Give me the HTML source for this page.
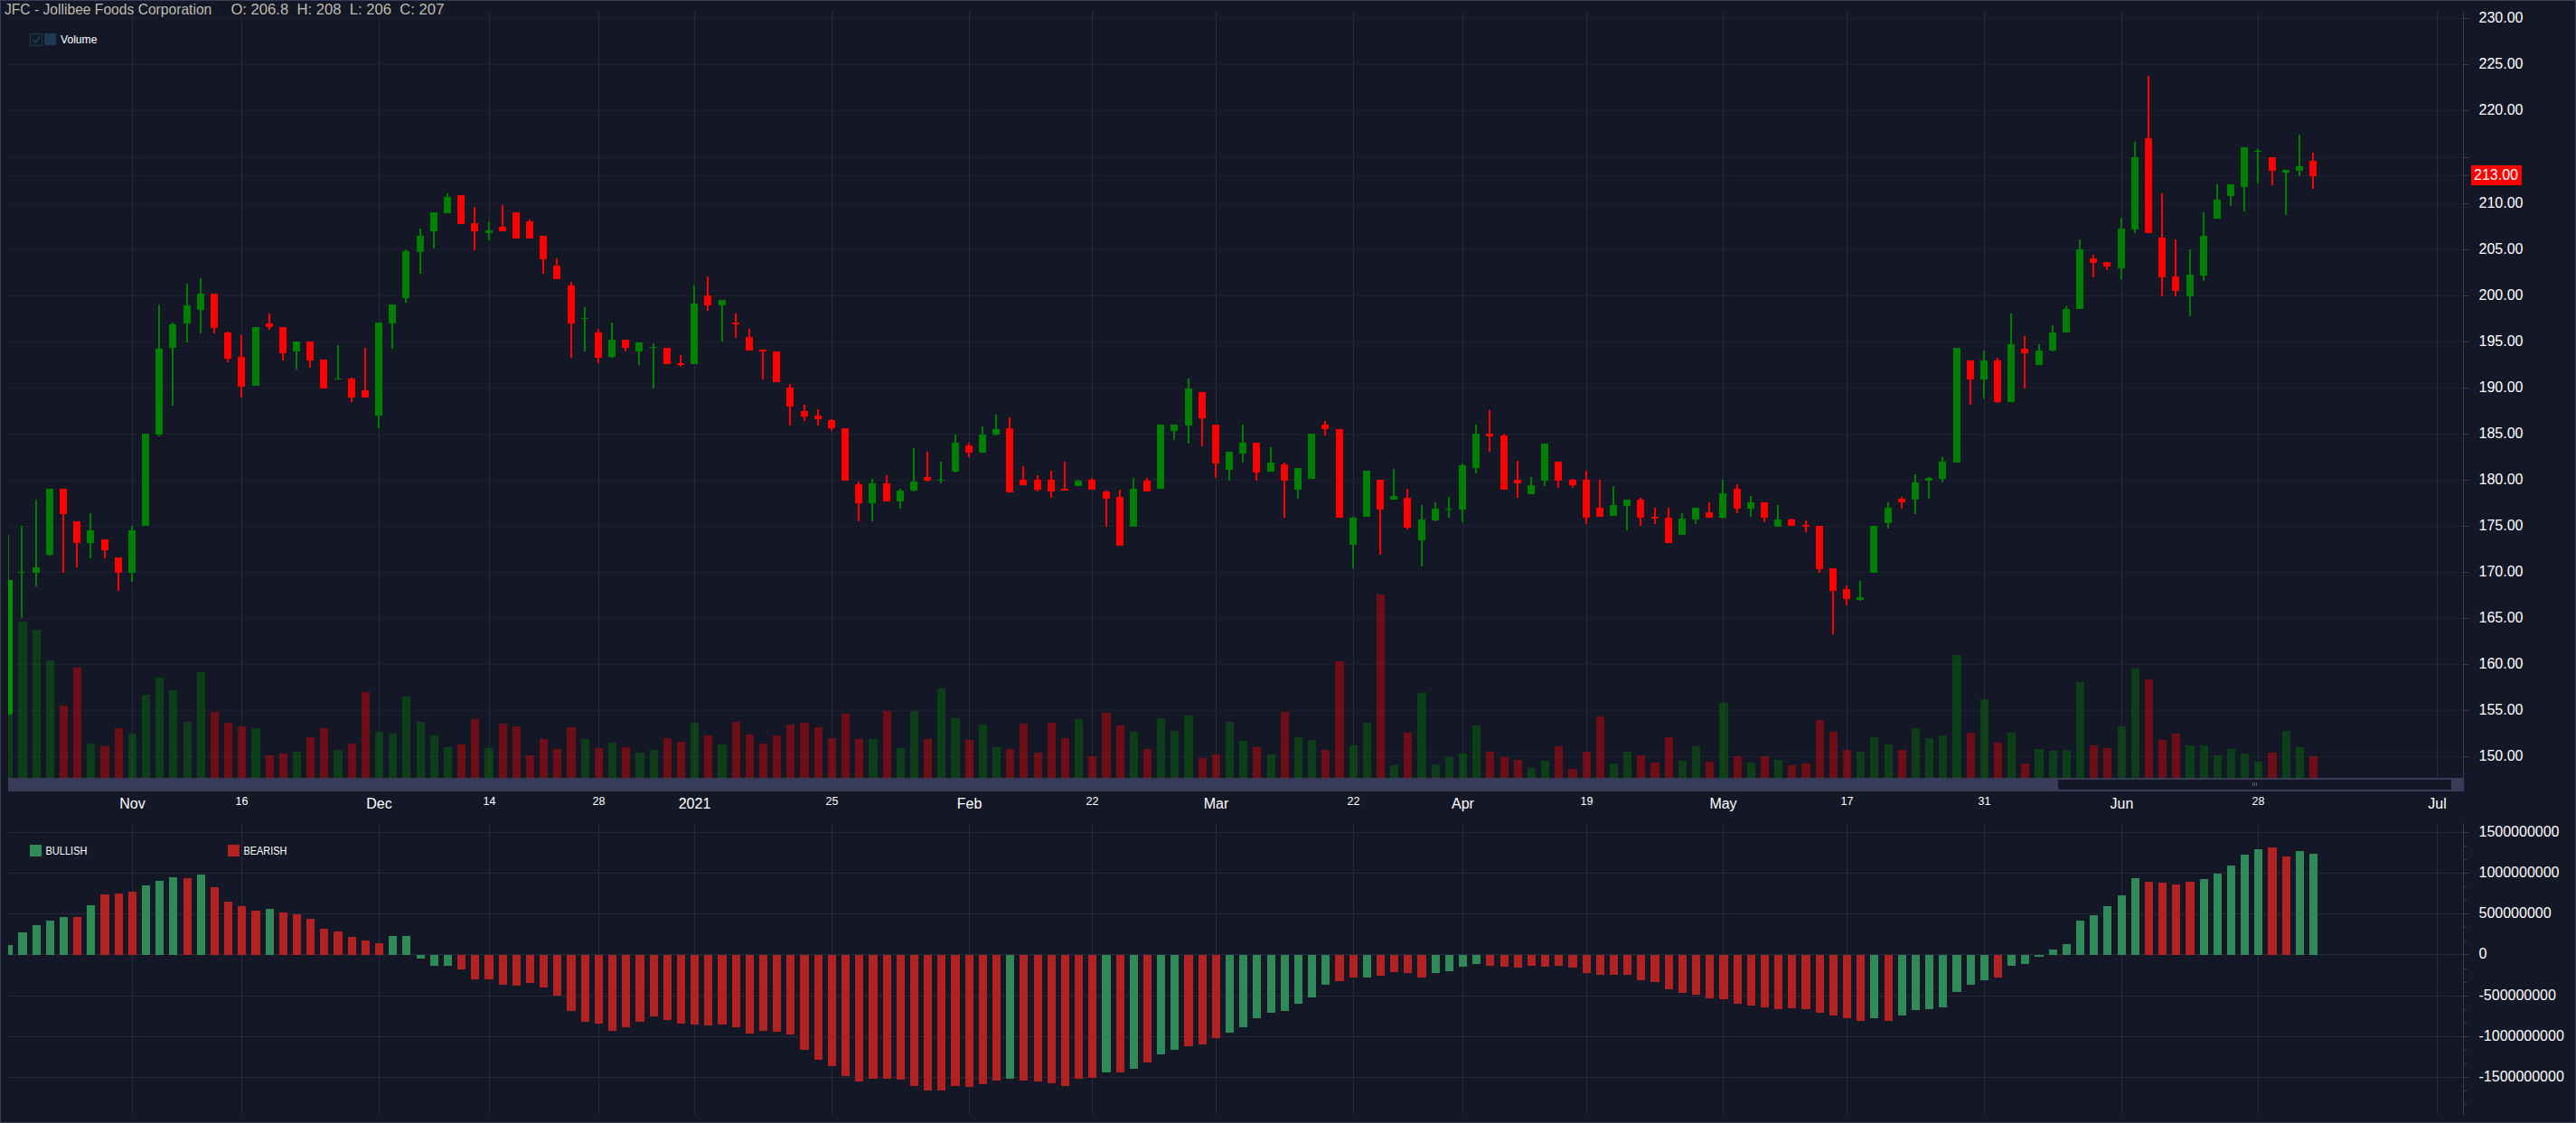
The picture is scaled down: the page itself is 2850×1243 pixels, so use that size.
<!DOCTYPE html>
<html><head><meta charset="utf-8"><title>JFC - Jollibee Foods Corporation</title>
<style>html,body{margin:0;padding:0;background:#141726;overflow:hidden}svg text{white-space:pre}</style></head>
<body>
<svg width="2850" height="1243" viewBox="0 0 2850 1243" style="display:block" font-family='"Liberation Sans", sans-serif'>
<rect width="2850" height="1243" fill="#141726"/>
<defs><clipPath id="pc"><rect x="9" y="13" width="2717" height="849"/></clipPath></defs>
<g shape-rendering="crispEdges" fill="#262939">
<rect x="146" y="13" width="1" height="848"/>
<rect x="146" y="911" width="1" height="323"/>
<rect x="267" y="13" width="1" height="848"/>
<rect x="267" y="911" width="1" height="323"/>
<rect x="419" y="13" width="1" height="848"/>
<rect x="419" y="911" width="1" height="323"/>
<rect x="541" y="13" width="1" height="848"/>
<rect x="541" y="911" width="1" height="323"/>
<rect x="662" y="13" width="1" height="848"/>
<rect x="662" y="911" width="1" height="323"/>
<rect x="768" y="13" width="1" height="848"/>
<rect x="768" y="911" width="1" height="323"/>
<rect x="920" y="13" width="1" height="848"/>
<rect x="920" y="911" width="1" height="323"/>
<rect x="1072" y="13" width="1" height="848"/>
<rect x="1072" y="911" width="1" height="323"/>
<rect x="1208" y="13" width="1" height="848"/>
<rect x="1208" y="911" width="1" height="323"/>
<rect x="1345" y="13" width="1" height="848"/>
<rect x="1345" y="911" width="1" height="323"/>
<rect x="1497" y="13" width="1" height="848"/>
<rect x="1497" y="911" width="1" height="323"/>
<rect x="1618" y="13" width="1" height="848"/>
<rect x="1618" y="911" width="1" height="323"/>
<rect x="1755" y="13" width="1" height="848"/>
<rect x="1755" y="911" width="1" height="323"/>
<rect x="1906" y="13" width="1" height="848"/>
<rect x="1906" y="911" width="1" height="323"/>
<rect x="2043" y="13" width="1" height="848"/>
<rect x="2043" y="911" width="1" height="323"/>
<rect x="2195" y="13" width="1" height="848"/>
<rect x="2195" y="911" width="1" height="323"/>
<rect x="2347" y="13" width="1" height="848"/>
<rect x="2347" y="911" width="1" height="323"/>
<rect x="2498" y="13" width="1" height="848"/>
<rect x="2498" y="911" width="1" height="323"/>
<rect x="2696" y="13" width="1" height="848"/>
<rect x="2696" y="911" width="1" height="323"/>
</g>
<g shape-rendering="crispEdges" stroke="#25283b" stroke-width="1" stroke-dasharray="1 1">
<line x1="9" x2="2725" y1="20.5" y2="20.5"/>
<line x1="9" x2="2725" y1="71.5" y2="71.5"/>
<line x1="9" x2="2725" y1="122.5" y2="122.5"/>
<line x1="9" x2="2725" y1="174.5" y2="174.5"/>
<line x1="9" x2="2725" y1="225.5" y2="225.5"/>
<line x1="9" x2="2725" y1="276.5" y2="276.5"/>
<line x1="9" x2="2725" y1="327.5" y2="327.5"/>
<line x1="9" x2="2725" y1="378.5" y2="378.5"/>
<line x1="9" x2="2725" y1="429.5" y2="429.5"/>
<line x1="9" x2="2725" y1="480.5" y2="480.5"/>
<line x1="9" x2="2725" y1="531.5" y2="531.5"/>
<line x1="9" x2="2725" y1="582.5" y2="582.5"/>
<line x1="9" x2="2725" y1="633.5" y2="633.5"/>
<line x1="9" x2="2725" y1="684.5" y2="684.5"/>
<line x1="9" x2="2725" y1="735.5" y2="735.5"/>
<line x1="9" x2="2725" y1="786.5" y2="786.5"/>
<line x1="9" x2="2725" y1="837.5" y2="837.5"/>
<line x1="9" x2="2725" y1="194.5" y2="194.5"/>
</g>
<g shape-rendering="crispEdges" fill="#262939">
<rect x="9" y="921" width="2716" height="1"/>
<rect x="9" y="966" width="2716" height="1"/>
<rect x="9" y="1011" width="2716" height="1"/>
<rect x="9" y="1056" width="2716" height="1"/>
<rect x="9" y="1102" width="2716" height="1"/>
<rect x="9" y="1147" width="2716" height="1"/>
<rect x="9" y="1192" width="2716" height="1"/>
</g>
<g shape-rendering="crispEdges" clip-path="url(#pc)">
<rect x="8" y="592" width="2" height="199" fill="#008000"/>
<rect x="5" y="642" width="8" height="149" fill="#008000"/>
<rect x="23" y="582" width="2" height="102" fill="#008000"/>
<rect x="20" y="633" width="8" height="1" fill="#008000"/>
<rect x="39" y="553" width="2" height="96" fill="#008000"/>
<rect x="36" y="628" width="8" height="6" fill="#008000"/>
<rect x="54" y="541" width="2" height="74" fill="#008000"/>
<rect x="51" y="541" width="8" height="73" fill="#008000"/>
<rect x="69" y="541" width="2" height="93" fill="#ff0000"/>
<rect x="66" y="541" width="8" height="28" fill="#ff0000"/>
<rect x="84" y="577" width="2" height="51" fill="#ff0000"/>
<rect x="81" y="577" width="8" height="24" fill="#ff0000"/>
<rect x="99" y="568" width="2" height="50" fill="#008000"/>
<rect x="96" y="587" width="8" height="14" fill="#008000"/>
<rect x="115" y="597" width="2" height="21" fill="#ff0000"/>
<rect x="112" y="597" width="8" height="12" fill="#ff0000"/>
<rect x="130" y="617" width="2" height="37" fill="#ff0000"/>
<rect x="127" y="617" width="8" height="17" fill="#ff0000"/>
<rect x="145" y="582" width="2" height="62" fill="#008000"/>
<rect x="142" y="587" width="8" height="47" fill="#008000"/>
<rect x="160" y="480" width="2" height="102" fill="#008000"/>
<rect x="157" y="480" width="8" height="102" fill="#008000"/>
<rect x="175" y="337" width="2" height="146" fill="#008000"/>
<rect x="172" y="386" width="8" height="95" fill="#008000"/>
<rect x="190" y="357" width="2" height="92" fill="#008000"/>
<rect x="187" y="359" width="8" height="26" fill="#008000"/>
<rect x="206" y="314" width="2" height="65" fill="#008000"/>
<rect x="203" y="338" width="8" height="20" fill="#008000"/>
<rect x="221" y="308" width="2" height="61" fill="#008000"/>
<rect x="218" y="325" width="8" height="18" fill="#008000"/>
<rect x="236" y="325" width="2" height="44" fill="#ff0000"/>
<rect x="233" y="325" width="8" height="38" fill="#ff0000"/>
<rect x="251" y="367" width="2" height="34" fill="#ff0000"/>
<rect x="248" y="368" width="8" height="29" fill="#ff0000"/>
<rect x="266" y="371" width="2" height="69" fill="#ff0000"/>
<rect x="263" y="395" width="8" height="33" fill="#ff0000"/>
<rect x="282" y="362" width="2" height="65" fill="#008000"/>
<rect x="279" y="362" width="8" height="65" fill="#008000"/>
<rect x="297" y="347" width="2" height="18" fill="#ff0000"/>
<rect x="294" y="358" width="8" height="4" fill="#ff0000"/>
<rect x="312" y="362" width="2" height="37" fill="#ff0000"/>
<rect x="309" y="362" width="8" height="29" fill="#ff0000"/>
<rect x="327" y="378" width="2" height="31" fill="#008000"/>
<rect x="324" y="378" width="8" height="11" fill="#008000"/>
<rect x="342" y="378" width="2" height="29" fill="#ff0000"/>
<rect x="339" y="378" width="8" height="21" fill="#ff0000"/>
<rect x="357" y="398" width="2" height="32" fill="#ff0000"/>
<rect x="354" y="398" width="8" height="32" fill="#ff0000"/>
<rect x="373" y="382" width="2" height="38" fill="#008000"/>
<rect x="370" y="419" width="8" height="1" fill="#008000"/>
<rect x="388" y="418" width="2" height="27" fill="#ff0000"/>
<rect x="385" y="419" width="8" height="21" fill="#ff0000"/>
<rect x="403" y="385" width="2" height="55" fill="#ff0000"/>
<rect x="400" y="432" width="8" height="8" fill="#ff0000"/>
<rect x="418" y="357" width="2" height="117" fill="#008000"/>
<rect x="415" y="357" width="8" height="103" fill="#008000"/>
<rect x="433" y="337" width="2" height="49" fill="#008000"/>
<rect x="430" y="337" width="8" height="21" fill="#008000"/>
<rect x="448" y="276" width="2" height="59" fill="#008000"/>
<rect x="445" y="278" width="8" height="52" fill="#008000"/>
<rect x="464" y="253" width="2" height="50" fill="#008000"/>
<rect x="461" y="261" width="8" height="18" fill="#008000"/>
<rect x="479" y="235" width="2" height="40" fill="#008000"/>
<rect x="476" y="235" width="8" height="21" fill="#008000"/>
<rect x="494" y="214" width="2" height="22" fill="#008000"/>
<rect x="491" y="218" width="8" height="18" fill="#008000"/>
<rect x="509" y="216" width="2" height="32" fill="#ff0000"/>
<rect x="506" y="216" width="8" height="32" fill="#ff0000"/>
<rect x="524" y="229" width="2" height="48" fill="#ff0000"/>
<rect x="521" y="247" width="8" height="9" fill="#ff0000"/>
<rect x="540" y="245" width="2" height="21" fill="#008000"/>
<rect x="537" y="255" width="8" height="3" fill="#008000"/>
<rect x="555" y="227" width="2" height="29" fill="#ff0000"/>
<rect x="552" y="251" width="8" height="5" fill="#ff0000"/>
<rect x="570" y="235" width="2" height="29" fill="#ff0000"/>
<rect x="567" y="235" width="8" height="29" fill="#ff0000"/>
<rect x="585" y="243" width="2" height="21" fill="#ff0000"/>
<rect x="582" y="245" width="8" height="19" fill="#ff0000"/>
<rect x="600" y="261" width="2" height="42" fill="#ff0000"/>
<rect x="597" y="261" width="8" height="26" fill="#ff0000"/>
<rect x="615" y="286" width="2" height="23" fill="#ff0000"/>
<rect x="612" y="294" width="8" height="15" fill="#ff0000"/>
<rect x="631" y="312" width="2" height="84" fill="#ff0000"/>
<rect x="628" y="316" width="8" height="42" fill="#ff0000"/>
<rect x="646" y="340" width="2" height="49" fill="#008000"/>
<rect x="643" y="352" width="8" height="1" fill="#008000"/>
<rect x="661" y="364" width="2" height="38" fill="#ff0000"/>
<rect x="658" y="368" width="8" height="28" fill="#ff0000"/>
<rect x="676" y="357" width="2" height="39" fill="#008000"/>
<rect x="673" y="376" width="8" height="19" fill="#008000"/>
<rect x="691" y="376" width="2" height="13" fill="#ff0000"/>
<rect x="688" y="376" width="8" height="9" fill="#ff0000"/>
<rect x="706" y="379" width="2" height="25" fill="#008000"/>
<rect x="703" y="379" width="8" height="10" fill="#008000"/>
<rect x="722" y="380" width="2" height="50" fill="#008000"/>
<rect x="719" y="384" width="8" height="1" fill="#008000"/>
<rect x="737" y="385" width="2" height="18" fill="#ff0000"/>
<rect x="734" y="385" width="8" height="18" fill="#ff0000"/>
<rect x="752" y="393" width="2" height="13" fill="#ff0000"/>
<rect x="749" y="402" width="8" height="2" fill="#ff0000"/>
<rect x="767" y="316" width="2" height="87" fill="#008000"/>
<rect x="764" y="336" width="8" height="67" fill="#008000"/>
<rect x="782" y="306" width="2" height="38" fill="#ff0000"/>
<rect x="779" y="327" width="8" height="11" fill="#ff0000"/>
<rect x="798" y="332" width="2" height="46" fill="#008000"/>
<rect x="795" y="332" width="8" height="6" fill="#008000"/>
<rect x="813" y="347" width="2" height="27" fill="#ff0000"/>
<rect x="810" y="357" width="8" height="2" fill="#ff0000"/>
<rect x="828" y="364" width="2" height="24" fill="#ff0000"/>
<rect x="825" y="373" width="8" height="15" fill="#ff0000"/>
<rect x="843" y="387" width="2" height="33" fill="#ff0000"/>
<rect x="840" y="387" width="8" height="2" fill="#ff0000"/>
<rect x="858" y="389" width="2" height="34" fill="#ff0000"/>
<rect x="855" y="389" width="8" height="34" fill="#ff0000"/>
<rect x="873" y="425" width="2" height="46" fill="#ff0000"/>
<rect x="870" y="429" width="8" height="21" fill="#ff0000"/>
<rect x="889" y="448" width="2" height="18" fill="#ff0000"/>
<rect x="886" y="455" width="8" height="6" fill="#ff0000"/>
<rect x="904" y="453" width="2" height="18" fill="#ff0000"/>
<rect x="901" y="460" width="8" height="4" fill="#ff0000"/>
<rect x="919" y="464" width="2" height="13" fill="#ff0000"/>
<rect x="916" y="465" width="8" height="9" fill="#ff0000"/>
<rect x="934" y="474" width="2" height="58" fill="#ff0000"/>
<rect x="931" y="474" width="8" height="58" fill="#ff0000"/>
<rect x="949" y="533" width="2" height="44" fill="#ff0000"/>
<rect x="946" y="536" width="8" height="21" fill="#ff0000"/>
<rect x="964" y="530" width="2" height="47" fill="#008000"/>
<rect x="961" y="535" width="8" height="22" fill="#008000"/>
<rect x="980" y="526" width="2" height="29" fill="#ff0000"/>
<rect x="977" y="535" width="8" height="20" fill="#ff0000"/>
<rect x="995" y="541" width="2" height="22" fill="#008000"/>
<rect x="992" y="543" width="8" height="12" fill="#008000"/>
<rect x="1010" y="496" width="2" height="48" fill="#008000"/>
<rect x="1007" y="533" width="8" height="10" fill="#008000"/>
<rect x="1025" y="500" width="2" height="33" fill="#ff0000"/>
<rect x="1022" y="528" width="8" height="4" fill="#ff0000"/>
<rect x="1040" y="511" width="2" height="24" fill="#008000"/>
<rect x="1037" y="531" width="8" height="1" fill="#008000"/>
<rect x="1056" y="481" width="2" height="42" fill="#008000"/>
<rect x="1053" y="490" width="8" height="32" fill="#008000"/>
<rect x="1071" y="490" width="2" height="16" fill="#ff0000"/>
<rect x="1068" y="493" width="8" height="8" fill="#ff0000"/>
<rect x="1086" y="472" width="2" height="29" fill="#008000"/>
<rect x="1083" y="481" width="8" height="20" fill="#008000"/>
<rect x="1101" y="459" width="2" height="23" fill="#008000"/>
<rect x="1098" y="475" width="8" height="6" fill="#008000"/>
<rect x="1116" y="462" width="2" height="83" fill="#ff0000"/>
<rect x="1113" y="474" width="8" height="71" fill="#ff0000"/>
<rect x="1131" y="516" width="2" height="21" fill="#ff0000"/>
<rect x="1128" y="531" width="8" height="6" fill="#ff0000"/>
<rect x="1147" y="526" width="2" height="18" fill="#ff0000"/>
<rect x="1144" y="531" width="8" height="11" fill="#ff0000"/>
<rect x="1162" y="521" width="2" height="30" fill="#ff0000"/>
<rect x="1159" y="531" width="8" height="13" fill="#ff0000"/>
<rect x="1177" y="511" width="2" height="32" fill="#ff0000"/>
<rect x="1174" y="541" width="8" height="2" fill="#ff0000"/>
<rect x="1192" y="531" width="2" height="7" fill="#008000"/>
<rect x="1189" y="532" width="8" height="6" fill="#008000"/>
<rect x="1207" y="529" width="2" height="13" fill="#ff0000"/>
<rect x="1204" y="531" width="8" height="11" fill="#ff0000"/>
<rect x="1223" y="543" width="2" height="40" fill="#ff0000"/>
<rect x="1220" y="544" width="8" height="8" fill="#ff0000"/>
<rect x="1238" y="542" width="2" height="62" fill="#ff0000"/>
<rect x="1235" y="550" width="8" height="54" fill="#ff0000"/>
<rect x="1253" y="529" width="2" height="54" fill="#008000"/>
<rect x="1250" y="541" width="8" height="42" fill="#008000"/>
<rect x="1268" y="529" width="2" height="15" fill="#ff0000"/>
<rect x="1265" y="532" width="8" height="12" fill="#ff0000"/>
<rect x="1283" y="470" width="2" height="71" fill="#008000"/>
<rect x="1280" y="470" width="8" height="71" fill="#008000"/>
<rect x="1298" y="470" width="2" height="17" fill="#008000"/>
<rect x="1295" y="470" width="8" height="7" fill="#008000"/>
<rect x="1314" y="419" width="2" height="72" fill="#008000"/>
<rect x="1311" y="430" width="8" height="41" fill="#008000"/>
<rect x="1329" y="434" width="2" height="60" fill="#ff0000"/>
<rect x="1326" y="434" width="8" height="29" fill="#ff0000"/>
<rect x="1344" y="470" width="2" height="59" fill="#ff0000"/>
<rect x="1341" y="470" width="8" height="43" fill="#ff0000"/>
<rect x="1359" y="500" width="2" height="32" fill="#008000"/>
<rect x="1356" y="500" width="8" height="20" fill="#008000"/>
<rect x="1374" y="470" width="2" height="42" fill="#008000"/>
<rect x="1371" y="490" width="8" height="12" fill="#008000"/>
<rect x="1389" y="490" width="2" height="42" fill="#ff0000"/>
<rect x="1386" y="490" width="8" height="33" fill="#ff0000"/>
<rect x="1405" y="495" width="2" height="27" fill="#008000"/>
<rect x="1402" y="512" width="8" height="10" fill="#008000"/>
<rect x="1420" y="512" width="2" height="61" fill="#ff0000"/>
<rect x="1417" y="514" width="8" height="18" fill="#ff0000"/>
<rect x="1435" y="518" width="2" height="34" fill="#008000"/>
<rect x="1432" y="518" width="8" height="24" fill="#008000"/>
<rect x="1450" y="480" width="2" height="50" fill="#008000"/>
<rect x="1447" y="480" width="8" height="50" fill="#008000"/>
<rect x="1465" y="466" width="2" height="16" fill="#ff0000"/>
<rect x="1462" y="470" width="8" height="5" fill="#ff0000"/>
<rect x="1481" y="475" width="2" height="98" fill="#ff0000"/>
<rect x="1478" y="475" width="8" height="98" fill="#ff0000"/>
<rect x="1496" y="572" width="2" height="57" fill="#008000"/>
<rect x="1493" y="573" width="8" height="30" fill="#008000"/>
<rect x="1511" y="521" width="2" height="51" fill="#008000"/>
<rect x="1508" y="521" width="8" height="51" fill="#008000"/>
<rect x="1526" y="531" width="2" height="83" fill="#ff0000"/>
<rect x="1523" y="531" width="8" height="33" fill="#ff0000"/>
<rect x="1541" y="519" width="2" height="34" fill="#008000"/>
<rect x="1538" y="549" width="8" height="4" fill="#008000"/>
<rect x="1556" y="541" width="2" height="45" fill="#ff0000"/>
<rect x="1553" y="551" width="8" height="33" fill="#ff0000"/>
<rect x="1572" y="559" width="2" height="68" fill="#008000"/>
<rect x="1569" y="575" width="8" height="23" fill="#008000"/>
<rect x="1587" y="556" width="2" height="21" fill="#008000"/>
<rect x="1584" y="563" width="8" height="13" fill="#008000"/>
<rect x="1602" y="550" width="2" height="23" fill="#008000"/>
<rect x="1599" y="563" width="8" height="1" fill="#008000"/>
<rect x="1617" y="513" width="2" height="65" fill="#008000"/>
<rect x="1614" y="515" width="8" height="49" fill="#008000"/>
<rect x="1632" y="470" width="2" height="54" fill="#008000"/>
<rect x="1629" y="480" width="8" height="38" fill="#008000"/>
<rect x="1647" y="454" width="2" height="46" fill="#ff0000"/>
<rect x="1644" y="480" width="8" height="3" fill="#ff0000"/>
<rect x="1663" y="480" width="2" height="62" fill="#ff0000"/>
<rect x="1660" y="482" width="8" height="60" fill="#ff0000"/>
<rect x="1678" y="510" width="2" height="41" fill="#ff0000"/>
<rect x="1675" y="531" width="8" height="4" fill="#ff0000"/>
<rect x="1693" y="528" width="2" height="19" fill="#008000"/>
<rect x="1690" y="537" width="8" height="10" fill="#008000"/>
<rect x="1708" y="491" width="2" height="47" fill="#008000"/>
<rect x="1705" y="491" width="8" height="41" fill="#008000"/>
<rect x="1723" y="511" width="2" height="29" fill="#ff0000"/>
<rect x="1720" y="511" width="8" height="21" fill="#ff0000"/>
<rect x="1739" y="530" width="2" height="10" fill="#ff0000"/>
<rect x="1736" y="531" width="8" height="6" fill="#ff0000"/>
<rect x="1754" y="521" width="2" height="59" fill="#ff0000"/>
<rect x="1751" y="531" width="8" height="42" fill="#ff0000"/>
<rect x="1769" y="531" width="2" height="41" fill="#ff0000"/>
<rect x="1766" y="562" width="8" height="10" fill="#ff0000"/>
<rect x="1784" y="538" width="2" height="33" fill="#008000"/>
<rect x="1781" y="559" width="8" height="12" fill="#008000"/>
<rect x="1799" y="553" width="2" height="34" fill="#008000"/>
<rect x="1796" y="553" width="8" height="7" fill="#008000"/>
<rect x="1814" y="551" width="2" height="31" fill="#ff0000"/>
<rect x="1811" y="553" width="8" height="20" fill="#ff0000"/>
<rect x="1830" y="562" width="2" height="18" fill="#ff0000"/>
<rect x="1827" y="572" width="8" height="2" fill="#ff0000"/>
<rect x="1845" y="562" width="2" height="39" fill="#ff0000"/>
<rect x="1842" y="573" width="8" height="28" fill="#ff0000"/>
<rect x="1860" y="568" width="2" height="24" fill="#008000"/>
<rect x="1857" y="574" width="8" height="18" fill="#008000"/>
<rect x="1875" y="562" width="2" height="18" fill="#008000"/>
<rect x="1872" y="562" width="8" height="13" fill="#008000"/>
<rect x="1890" y="556" width="2" height="17" fill="#ff0000"/>
<rect x="1887" y="567" width="8" height="6" fill="#ff0000"/>
<rect x="1905" y="531" width="2" height="43" fill="#008000"/>
<rect x="1902" y="546" width="8" height="27" fill="#008000"/>
<rect x="1921" y="536" width="2" height="32" fill="#ff0000"/>
<rect x="1918" y="541" width="8" height="22" fill="#ff0000"/>
<rect x="1936" y="549" width="2" height="23" fill="#008000"/>
<rect x="1933" y="556" width="8" height="7" fill="#008000"/>
<rect x="1951" y="556" width="2" height="22" fill="#ff0000"/>
<rect x="1948" y="556" width="8" height="17" fill="#ff0000"/>
<rect x="1966" y="559" width="2" height="24" fill="#008000"/>
<rect x="1963" y="575" width="8" height="8" fill="#008000"/>
<rect x="1981" y="574" width="2" height="8" fill="#ff0000"/>
<rect x="1978" y="575" width="8" height="7" fill="#ff0000"/>
<rect x="1997" y="576" width="2" height="13" fill="#ff0000"/>
<rect x="1994" y="581" width="8" height="2" fill="#ff0000"/>
<rect x="2012" y="582" width="2" height="52" fill="#ff0000"/>
<rect x="2009" y="582" width="8" height="48" fill="#ff0000"/>
<rect x="2027" y="629" width="2" height="73" fill="#ff0000"/>
<rect x="2024" y="629" width="8" height="25" fill="#ff0000"/>
<rect x="2042" y="648" width="2" height="22" fill="#ff0000"/>
<rect x="2039" y="652" width="8" height="11" fill="#ff0000"/>
<rect x="2057" y="643" width="2" height="22" fill="#008000"/>
<rect x="2054" y="661" width="8" height="3" fill="#008000"/>
<rect x="2072" y="582" width="2" height="52" fill="#008000"/>
<rect x="2069" y="582" width="8" height="52" fill="#008000"/>
<rect x="2088" y="556" width="2" height="29" fill="#008000"/>
<rect x="2085" y="562" width="8" height="17" fill="#008000"/>
<rect x="2103" y="550" width="2" height="13" fill="#ff0000"/>
<rect x="2100" y="552" width="8" height="4" fill="#ff0000"/>
<rect x="2118" y="525" width="2" height="44" fill="#008000"/>
<rect x="2115" y="534" width="8" height="19" fill="#008000"/>
<rect x="2133" y="528" width="2" height="24" fill="#008000"/>
<rect x="2130" y="529" width="8" height="3" fill="#008000"/>
<rect x="2148" y="506" width="2" height="28" fill="#008000"/>
<rect x="2145" y="511" width="8" height="19" fill="#008000"/>
<rect x="2164" y="385" width="2" height="127" fill="#008000"/>
<rect x="2161" y="385" width="8" height="127" fill="#008000"/>
<rect x="2179" y="399" width="2" height="49" fill="#ff0000"/>
<rect x="2176" y="399" width="8" height="21" fill="#ff0000"/>
<rect x="2194" y="388" width="2" height="53" fill="#008000"/>
<rect x="2191" y="399" width="8" height="21" fill="#008000"/>
<rect x="2209" y="396" width="2" height="50" fill="#ff0000"/>
<rect x="2206" y="399" width="8" height="46" fill="#ff0000"/>
<rect x="2224" y="347" width="2" height="98" fill="#008000"/>
<rect x="2221" y="381" width="8" height="64" fill="#008000"/>
<rect x="2239" y="372" width="2" height="58" fill="#ff0000"/>
<rect x="2236" y="386" width="8" height="5" fill="#ff0000"/>
<rect x="2255" y="381" width="2" height="23" fill="#008000"/>
<rect x="2252" y="388" width="8" height="16" fill="#008000"/>
<rect x="2270" y="360" width="2" height="29" fill="#008000"/>
<rect x="2267" y="368" width="8" height="20" fill="#008000"/>
<rect x="2285" y="339" width="2" height="29" fill="#008000"/>
<rect x="2282" y="342" width="8" height="26" fill="#008000"/>
<rect x="2300" y="265" width="2" height="77" fill="#008000"/>
<rect x="2297" y="276" width="8" height="66" fill="#008000"/>
<rect x="2315" y="282" width="2" height="25" fill="#ff0000"/>
<rect x="2312" y="286" width="8" height="5" fill="#ff0000"/>
<rect x="2330" y="290" width="2" height="9" fill="#ff0000"/>
<rect x="2327" y="290" width="8" height="5" fill="#ff0000"/>
<rect x="2346" y="241" width="2" height="68" fill="#008000"/>
<rect x="2343" y="253" width="8" height="44" fill="#008000"/>
<rect x="2361" y="157" width="2" height="101" fill="#008000"/>
<rect x="2358" y="174" width="8" height="80" fill="#008000"/>
<rect x="2376" y="84" width="2" height="174" fill="#ff0000"/>
<rect x="2373" y="153" width="8" height="105" fill="#ff0000"/>
<rect x="2391" y="214" width="2" height="114" fill="#ff0000"/>
<rect x="2388" y="263" width="8" height="44" fill="#ff0000"/>
<rect x="2406" y="265" width="2" height="63" fill="#ff0000"/>
<rect x="2403" y="306" width="8" height="16" fill="#ff0000"/>
<rect x="2422" y="276" width="2" height="74" fill="#008000"/>
<rect x="2419" y="304" width="8" height="24" fill="#008000"/>
<rect x="2437" y="235" width="2" height="76" fill="#008000"/>
<rect x="2434" y="261" width="8" height="44" fill="#008000"/>
<rect x="2452" y="204" width="2" height="38" fill="#008000"/>
<rect x="2449" y="221" width="8" height="21" fill="#008000"/>
<rect x="2467" y="204" width="2" height="24" fill="#008000"/>
<rect x="2464" y="204" width="8" height="13" fill="#008000"/>
<rect x="2482" y="163" width="2" height="71" fill="#008000"/>
<rect x="2479" y="163" width="8" height="44" fill="#008000"/>
<rect x="2497" y="165" width="2" height="38" fill="#008000"/>
<rect x="2494" y="167" width="8" height="1" fill="#008000"/>
<rect x="2513" y="174" width="2" height="31" fill="#ff0000"/>
<rect x="2510" y="174" width="8" height="15" fill="#ff0000"/>
<rect x="2528" y="188" width="2" height="50" fill="#008000"/>
<rect x="2525" y="188" width="8" height="3" fill="#008000"/>
<rect x="2543" y="149" width="2" height="46" fill="#008000"/>
<rect x="2540" y="184" width="8" height="5" fill="#008000"/>
<rect x="2558" y="169" width="2" height="40" fill="#ff0000"/>
<rect x="2555" y="178" width="8" height="17" fill="#ff0000"/>
<rect x="5" y="642" width="9" height="219" fill="rgba(0,128,0,0.385)"/>
<rect x="20" y="688" width="10" height="173" fill="rgba(0,128,0,0.385)"/>
<rect x="36" y="697" width="9" height="164" fill="rgba(0,128,0,0.385)"/>
<rect x="51" y="731" width="9" height="130" fill="rgba(0,128,0,0.385)"/>
<rect x="66" y="781" width="9" height="80" fill="rgba(255,0,0,0.385)"/>
<rect x="81" y="739" width="9" height="122" fill="rgba(255,0,0,0.385)"/>
<rect x="96" y="823" width="9" height="38" fill="rgba(0,128,0,0.385)"/>
<rect x="111" y="826" width="10" height="35" fill="rgba(255,0,0,0.385)"/>
<rect x="127" y="806" width="9" height="55" fill="rgba(255,0,0,0.385)"/>
<rect x="142" y="812" width="9" height="49" fill="rgba(0,128,0,0.385)"/>
<rect x="157" y="769" width="9" height="92" fill="rgba(0,128,0,0.385)"/>
<rect x="172" y="750" width="9" height="111" fill="rgba(0,128,0,0.385)"/>
<rect x="187" y="764" width="9" height="97" fill="rgba(0,128,0,0.385)"/>
<rect x="203" y="799" width="9" height="62" fill="rgba(0,128,0,0.385)"/>
<rect x="218" y="744" width="9" height="117" fill="rgba(0,128,0,0.385)"/>
<rect x="233" y="788" width="9" height="73" fill="rgba(255,0,0,0.385)"/>
<rect x="248" y="800" width="9" height="61" fill="rgba(255,0,0,0.385)"/>
<rect x="263" y="804" width="9" height="57" fill="rgba(255,0,0,0.385)"/>
<rect x="278" y="806" width="10" height="55" fill="rgba(0,128,0,0.385)"/>
<rect x="294" y="836" width="9" height="25" fill="rgba(255,0,0,0.385)"/>
<rect x="309" y="834" width="9" height="27" fill="rgba(255,0,0,0.385)"/>
<rect x="324" y="832" width="9" height="29" fill="rgba(0,128,0,0.385)"/>
<rect x="339" y="816" width="9" height="45" fill="rgba(255,0,0,0.385)"/>
<rect x="354" y="806" width="9" height="55" fill="rgba(255,0,0,0.385)"/>
<rect x="369" y="830" width="10" height="31" fill="rgba(0,128,0,0.385)"/>
<rect x="385" y="823" width="9" height="38" fill="rgba(255,0,0,0.385)"/>
<rect x="400" y="766" width="9" height="95" fill="rgba(255,0,0,0.385)"/>
<rect x="415" y="810" width="9" height="51" fill="rgba(0,128,0,0.385)"/>
<rect x="430" y="812" width="9" height="49" fill="rgba(0,128,0,0.385)"/>
<rect x="445" y="771" width="9" height="90" fill="rgba(0,128,0,0.385)"/>
<rect x="461" y="799" width="9" height="62" fill="rgba(0,128,0,0.385)"/>
<rect x="476" y="814" width="9" height="47" fill="rgba(0,128,0,0.385)"/>
<rect x="491" y="827" width="9" height="34" fill="rgba(0,128,0,0.385)"/>
<rect x="506" y="824" width="9" height="37" fill="rgba(255,0,0,0.385)"/>
<rect x="521" y="796" width="9" height="65" fill="rgba(255,0,0,0.385)"/>
<rect x="536" y="828" width="10" height="33" fill="rgba(0,128,0,0.385)"/>
<rect x="552" y="801" width="9" height="60" fill="rgba(255,0,0,0.385)"/>
<rect x="567" y="804" width="9" height="57" fill="rgba(255,0,0,0.385)"/>
<rect x="582" y="836" width="9" height="25" fill="rgba(255,0,0,0.385)"/>
<rect x="597" y="818" width="9" height="43" fill="rgba(255,0,0,0.385)"/>
<rect x="612" y="829" width="9" height="32" fill="rgba(255,0,0,0.385)"/>
<rect x="627" y="805" width="10" height="56" fill="rgba(255,0,0,0.385)"/>
<rect x="643" y="818" width="9" height="43" fill="rgba(0,128,0,0.385)"/>
<rect x="658" y="828" width="9" height="33" fill="rgba(255,0,0,0.385)"/>
<rect x="673" y="822" width="9" height="39" fill="rgba(0,128,0,0.385)"/>
<rect x="688" y="827" width="9" height="34" fill="rgba(255,0,0,0.385)"/>
<rect x="703" y="833" width="10" height="28" fill="rgba(0,128,0,0.385)"/>
<rect x="719" y="830" width="9" height="31" fill="rgba(0,128,0,0.385)"/>
<rect x="734" y="817" width="9" height="44" fill="rgba(255,0,0,0.385)"/>
<rect x="749" y="821" width="9" height="40" fill="rgba(255,0,0,0.385)"/>
<rect x="764" y="800" width="9" height="61" fill="rgba(0,128,0,0.385)"/>
<rect x="779" y="814" width="9" height="47" fill="rgba(255,0,0,0.385)"/>
<rect x="794" y="824" width="10" height="37" fill="rgba(0,128,0,0.385)"/>
<rect x="810" y="799" width="9" height="62" fill="rgba(255,0,0,0.385)"/>
<rect x="825" y="813" width="9" height="48" fill="rgba(255,0,0,0.385)"/>
<rect x="840" y="823" width="9" height="38" fill="rgba(255,0,0,0.385)"/>
<rect x="855" y="814" width="9" height="47" fill="rgba(255,0,0,0.385)"/>
<rect x="870" y="802" width="9" height="59" fill="rgba(255,0,0,0.385)"/>
<rect x="885" y="800" width="10" height="61" fill="rgba(255,0,0,0.385)"/>
<rect x="901" y="805" width="9" height="56" fill="rgba(255,0,0,0.385)"/>
<rect x="916" y="817" width="9" height="44" fill="rgba(255,0,0,0.385)"/>
<rect x="931" y="790" width="9" height="71" fill="rgba(255,0,0,0.385)"/>
<rect x="946" y="818" width="9" height="43" fill="rgba(255,0,0,0.385)"/>
<rect x="961" y="818" width="10" height="43" fill="rgba(0,128,0,0.385)"/>
<rect x="977" y="787" width="9" height="74" fill="rgba(255,0,0,0.385)"/>
<rect x="992" y="828" width="9" height="33" fill="rgba(0,128,0,0.385)"/>
<rect x="1007" y="787" width="9" height="74" fill="rgba(0,128,0,0.385)"/>
<rect x="1022" y="818" width="9" height="43" fill="rgba(255,0,0,0.385)"/>
<rect x="1037" y="762" width="9" height="99" fill="rgba(0,128,0,0.385)"/>
<rect x="1052" y="795" width="10" height="66" fill="rgba(0,128,0,0.385)"/>
<rect x="1068" y="819" width="9" height="42" fill="rgba(255,0,0,0.385)"/>
<rect x="1083" y="802" width="9" height="59" fill="rgba(0,128,0,0.385)"/>
<rect x="1098" y="827" width="9" height="34" fill="rgba(0,128,0,0.385)"/>
<rect x="1113" y="829" width="9" height="32" fill="rgba(255,0,0,0.385)"/>
<rect x="1128" y="801" width="9" height="60" fill="rgba(255,0,0,0.385)"/>
<rect x="1144" y="833" width="9" height="28" fill="rgba(255,0,0,0.385)"/>
<rect x="1159" y="800" width="9" height="61" fill="rgba(255,0,0,0.385)"/>
<rect x="1174" y="817" width="9" height="44" fill="rgba(255,0,0,0.385)"/>
<rect x="1189" y="796" width="9" height="65" fill="rgba(0,128,0,0.385)"/>
<rect x="1204" y="837" width="9" height="24" fill="rgba(255,0,0,0.385)"/>
<rect x="1219" y="789" width="10" height="72" fill="rgba(255,0,0,0.385)"/>
<rect x="1235" y="803" width="9" height="58" fill="rgba(255,0,0,0.385)"/>
<rect x="1250" y="810" width="9" height="51" fill="rgba(0,128,0,0.385)"/>
<rect x="1265" y="829" width="9" height="32" fill="rgba(255,0,0,0.385)"/>
<rect x="1280" y="795" width="9" height="66" fill="rgba(0,128,0,0.385)"/>
<rect x="1295" y="809" width="9" height="52" fill="rgba(0,128,0,0.385)"/>
<rect x="1310" y="792" width="10" height="69" fill="rgba(0,128,0,0.385)"/>
<rect x="1326" y="839" width="9" height="22" fill="rgba(255,0,0,0.385)"/>
<rect x="1341" y="835" width="9" height="26" fill="rgba(255,0,0,0.385)"/>
<rect x="1356" y="799" width="9" height="62" fill="rgba(0,128,0,0.385)"/>
<rect x="1371" y="820" width="9" height="41" fill="rgba(0,128,0,0.385)"/>
<rect x="1386" y="827" width="9" height="34" fill="rgba(255,0,0,0.385)"/>
<rect x="1402" y="835" width="9" height="26" fill="rgba(0,128,0,0.385)"/>
<rect x="1417" y="788" width="9" height="73" fill="rgba(255,0,0,0.385)"/>
<rect x="1432" y="816" width="9" height="45" fill="rgba(0,128,0,0.385)"/>
<rect x="1447" y="819" width="9" height="42" fill="rgba(0,128,0,0.385)"/>
<rect x="1462" y="830" width="9" height="31" fill="rgba(255,0,0,0.385)"/>
<rect x="1477" y="732" width="10" height="129" fill="rgba(255,0,0,0.385)"/>
<rect x="1493" y="825" width="9" height="36" fill="rgba(0,128,0,0.385)"/>
<rect x="1508" y="800" width="9" height="61" fill="rgba(0,128,0,0.385)"/>
<rect x="1523" y="658" width="9" height="203" fill="rgba(255,0,0,0.385)"/>
<rect x="1538" y="847" width="9" height="14" fill="rgba(0,128,0,0.385)"/>
<rect x="1553" y="811" width="9" height="50" fill="rgba(255,0,0,0.385)"/>
<rect x="1568" y="767" width="10" height="94" fill="rgba(0,128,0,0.385)"/>
<rect x="1584" y="846" width="9" height="15" fill="rgba(0,128,0,0.385)"/>
<rect x="1599" y="838" width="9" height="23" fill="rgba(0,128,0,0.385)"/>
<rect x="1614" y="834" width="9" height="27" fill="rgba(0,128,0,0.385)"/>
<rect x="1629" y="803" width="9" height="58" fill="rgba(0,128,0,0.385)"/>
<rect x="1644" y="832" width="9" height="29" fill="rgba(255,0,0,0.385)"/>
<rect x="1660" y="838" width="9" height="23" fill="rgba(255,0,0,0.385)"/>
<rect x="1675" y="841" width="9" height="20" fill="rgba(255,0,0,0.385)"/>
<rect x="1690" y="850" width="9" height="11" fill="rgba(0,128,0,0.385)"/>
<rect x="1705" y="842" width="9" height="19" fill="rgba(0,128,0,0.385)"/>
<rect x="1720" y="826" width="9" height="35" fill="rgba(255,0,0,0.385)"/>
<rect x="1735" y="851" width="10" height="10" fill="rgba(255,0,0,0.385)"/>
<rect x="1751" y="832" width="9" height="29" fill="rgba(255,0,0,0.385)"/>
<rect x="1766" y="793" width="9" height="68" fill="rgba(255,0,0,0.385)"/>
<rect x="1781" y="845" width="9" height="16" fill="rgba(0,128,0,0.385)"/>
<rect x="1796" y="832" width="9" height="29" fill="rgba(0,128,0,0.385)"/>
<rect x="1811" y="836" width="9" height="25" fill="rgba(255,0,0,0.385)"/>
<rect x="1826" y="844" width="10" height="17" fill="rgba(255,0,0,0.385)"/>
<rect x="1842" y="816" width="9" height="45" fill="rgba(255,0,0,0.385)"/>
<rect x="1857" y="842" width="9" height="19" fill="rgba(0,128,0,0.385)"/>
<rect x="1872" y="826" width="9" height="35" fill="rgba(0,128,0,0.385)"/>
<rect x="1887" y="843" width="9" height="18" fill="rgba(255,0,0,0.385)"/>
<rect x="1902" y="778" width="10" height="83" fill="rgba(0,128,0,0.385)"/>
<rect x="1918" y="837" width="9" height="24" fill="rgba(255,0,0,0.385)"/>
<rect x="1933" y="844" width="9" height="17" fill="rgba(0,128,0,0.385)"/>
<rect x="1948" y="837" width="9" height="24" fill="rgba(255,0,0,0.385)"/>
<rect x="1963" y="841" width="9" height="20" fill="rgba(0,128,0,0.385)"/>
<rect x="1978" y="847" width="9" height="14" fill="rgba(255,0,0,0.385)"/>
<rect x="1993" y="845" width="10" height="16" fill="rgba(255,0,0,0.385)"/>
<rect x="2009" y="797" width="9" height="64" fill="rgba(255,0,0,0.385)"/>
<rect x="2024" y="810" width="9" height="51" fill="rgba(255,0,0,0.385)"/>
<rect x="2039" y="830" width="9" height="31" fill="rgba(255,0,0,0.385)"/>
<rect x="2054" y="832" width="9" height="29" fill="rgba(0,128,0,0.385)"/>
<rect x="2069" y="816" width="9" height="45" fill="rgba(0,128,0,0.385)"/>
<rect x="2085" y="824" width="9" height="37" fill="rgba(0,128,0,0.385)"/>
<rect x="2100" y="830" width="9" height="31" fill="rgba(255,0,0,0.385)"/>
<rect x="2115" y="806" width="9" height="55" fill="rgba(0,128,0,0.385)"/>
<rect x="2130" y="817" width="9" height="44" fill="rgba(0,128,0,0.385)"/>
<rect x="2145" y="814" width="9" height="47" fill="rgba(0,128,0,0.385)"/>
<rect x="2160" y="725" width="10" height="136" fill="rgba(0,128,0,0.385)"/>
<rect x="2176" y="811" width="9" height="50" fill="rgba(255,0,0,0.385)"/>
<rect x="2191" y="774" width="9" height="87" fill="rgba(0,128,0,0.385)"/>
<rect x="2206" y="822" width="9" height="39" fill="rgba(255,0,0,0.385)"/>
<rect x="2221" y="811" width="9" height="50" fill="rgba(0,128,0,0.385)"/>
<rect x="2236" y="845" width="9" height="16" fill="rgba(255,0,0,0.385)"/>
<rect x="2251" y="829" width="10" height="32" fill="rgba(0,128,0,0.385)"/>
<rect x="2267" y="831" width="9" height="30" fill="rgba(0,128,0,0.385)"/>
<rect x="2282" y="830" width="9" height="31" fill="rgba(0,128,0,0.385)"/>
<rect x="2297" y="755" width="9" height="106" fill="rgba(0,128,0,0.385)"/>
<rect x="2312" y="825" width="9" height="36" fill="rgba(255,0,0,0.385)"/>
<rect x="2327" y="828" width="9" height="33" fill="rgba(255,0,0,0.385)"/>
<rect x="2343" y="804" width="9" height="57" fill="rgba(0,128,0,0.385)"/>
<rect x="2358" y="740" width="9" height="121" fill="rgba(0,128,0,0.385)"/>
<rect x="2373" y="752" width="9" height="109" fill="rgba(255,0,0,0.385)"/>
<rect x="2388" y="819" width="9" height="42" fill="rgba(255,0,0,0.385)"/>
<rect x="2403" y="812" width="9" height="49" fill="rgba(255,0,0,0.385)"/>
<rect x="2418" y="825" width="10" height="36" fill="rgba(0,128,0,0.385)"/>
<rect x="2434" y="825" width="9" height="36" fill="rgba(0,128,0,0.385)"/>
<rect x="2449" y="836" width="9" height="25" fill="rgba(0,128,0,0.385)"/>
<rect x="2464" y="829" width="9" height="32" fill="rgba(0,128,0,0.385)"/>
<rect x="2479" y="834" width="9" height="27" fill="rgba(0,128,0,0.385)"/>
<rect x="2494" y="843" width="9" height="18" fill="rgba(0,128,0,0.385)"/>
<rect x="2509" y="833" width="10" height="28" fill="rgba(255,0,0,0.385)"/>
<rect x="2525" y="809" width="9" height="52" fill="rgba(0,128,0,0.385)"/>
<rect x="2540" y="827" width="9" height="34" fill="rgba(0,128,0,0.385)"/>
<rect x="2555" y="837" width="9" height="24" fill="rgba(255,0,0,0.385)"/>
<rect x="9" y="642" width="5" height="148" fill="#009400"/>
</g>
<g shape-rendering="crispEdges"><rect x="9" y="861" width="2717" height="15" fill="#393c58"/>
<rect x="2277" y="863" width="435" height="11" fill="#141726"/>
<rect x="2492" y="866" width="1" height="4" fill="#55587a"/>
<rect x="2494" y="866" width="1" height="4" fill="#55587a"/>
<rect x="2496" y="866" width="1" height="4" fill="#55587a"/>
</g>
<g shape-rendering="crispEdges" fill="#3a3d5a">
<rect x="2725" y="13" width="1" height="863"/>
<rect x="2725" y="911" width="1" height="323"/>
<rect x="2726" y="20" width="5" height="1"/>
<rect x="2726" y="71" width="5" height="1"/>
<rect x="2726" y="122" width="5" height="1"/>
<rect x="2726" y="174" width="5" height="1"/>
<rect x="2726" y="225" width="5" height="1"/>
<rect x="2726" y="276" width="5" height="1"/>
<rect x="2726" y="327" width="5" height="1"/>
<rect x="2726" y="378" width="5" height="1"/>
<rect x="2726" y="429" width="5" height="1"/>
<rect x="2726" y="480" width="5" height="1"/>
<rect x="2726" y="531" width="5" height="1"/>
<rect x="2726" y="582" width="5" height="1"/>
<rect x="2726" y="633" width="5" height="1"/>
<rect x="2726" y="684" width="5" height="1"/>
<rect x="2726" y="735" width="5" height="1"/>
<rect x="2726" y="786" width="5" height="1"/>
<rect x="2726" y="837" width="5" height="1"/>
<rect x="2726" y="194" width="5" height="1"/>
<rect x="2726" y="921" width="5" height="1"/>
<rect x="2726" y="966" width="5" height="1"/>
<rect x="2726" y="1011" width="5" height="1"/>
<rect x="2726" y="1056" width="5" height="1"/>
<rect x="2726" y="1102" width="5" height="1"/>
<rect x="2726" y="1147" width="5" height="1"/>
<rect x="2726" y="1192" width="5" height="1"/>
<rect x="2726" y="936" width="3" height="1"/>
<rect x="2726" y="951" width="3" height="1"/>
<rect x="2726" y="981" width="3" height="1"/>
<rect x="2726" y="996" width="3" height="1"/>
<rect x="2726" y="1026" width="3" height="1"/>
<rect x="2726" y="1041" width="3" height="1"/>
<rect x="2726" y="1072" width="3" height="1"/>
<rect x="2726" y="1087" width="3" height="1"/>
<rect x="2726" y="1117" width="3" height="1"/>
<rect x="2726" y="1132" width="3" height="1"/>
<rect x="2726" y="1162" width="3" height="1"/>
<rect x="2726" y="1177" width="3" height="1"/>
<rect x="2726" y="1207" width="3" height="1"/>
<rect x="2726" y="1222" width="3" height="1"/>
</g>
<g fill="#ffffff" font-size="16">
<text x="2742.5" y="25.0">230.00</text>
<text x="2742.5" y="76.0">225.00</text>
<text x="2742.5" y="127.0">220.00</text>
<text x="2742.5" y="230.0">210.00</text>
<text x="2742.5" y="281.0">205.00</text>
<text x="2742.5" y="332.0">200.00</text>
<text x="2742.5" y="383.0">195.00</text>
<text x="2742.5" y="434.0">190.00</text>
<text x="2742.5" y="485.0">185.00</text>
<text x="2742.5" y="536.0">180.00</text>
<text x="2742.5" y="587.0">175.00</text>
<text x="2742.5" y="638.0">170.00</text>
<text x="2742.5" y="689.0">165.00</text>
<text x="2742.5" y="740.0">160.00</text>
<text x="2742.5" y="791.0">155.00</text>
<text x="2742.5" y="842.0">150.00</text>
<text x="2742.5" y="926.0">1500000000</text>
<text x="2742.5" y="971.0">1000000000</text>
<text x="2742.5" y="1016.0">500000000</text>
<text x="2742.5" y="1061.0">0</text>
<text x="2742.5" y="1107.0">-500000000</text>
<text x="2742.5" y="1152.0">-1000000000</text>
<text x="2742.5" y="1197.0">-1500000000</text>
</g>
<rect x="2734" y="183" width="56" height="22" fill="#ff0000" shape-rendering="crispEdges"/>
<text x="2737" y="198.6" font-size="16" fill="#ffffff">213.00</text>
<text x="146.5" y="895" font-size="16" fill="#ffffff" text-anchor="middle">Nov</text>
<text x="267.5" y="891" font-size="12.5" fill="#ffffff" text-anchor="middle">16</text>
<text x="419.5" y="895" font-size="16" fill="#ffffff" text-anchor="middle">Dec</text>
<text x="541.5" y="891" font-size="12.5" fill="#ffffff" text-anchor="middle">14</text>
<text x="662.5" y="891" font-size="12.5" fill="#ffffff" text-anchor="middle">28</text>
<text x="768.5" y="895" font-size="16" fill="#ffffff" text-anchor="middle">2021</text>
<text x="920.5" y="891" font-size="12.5" fill="#ffffff" text-anchor="middle">25</text>
<text x="1072.5" y="895" font-size="16" fill="#ffffff" text-anchor="middle">Feb</text>
<text x="1208.5" y="891" font-size="12.5" fill="#ffffff" text-anchor="middle">22</text>
<text x="1345.5" y="895" font-size="16" fill="#ffffff" text-anchor="middle">Mar</text>
<text x="1497.5" y="891" font-size="12.5" fill="#ffffff" text-anchor="middle">22</text>
<text x="1618.5" y="895" font-size="16" fill="#ffffff" text-anchor="middle">Apr</text>
<text x="1755.5" y="891" font-size="12.5" fill="#ffffff" text-anchor="middle">19</text>
<text x="1906.5" y="895" font-size="16" fill="#ffffff" text-anchor="middle">May</text>
<text x="2043.5" y="891" font-size="12.5" fill="#ffffff" text-anchor="middle">17</text>
<text x="2195.5" y="891" font-size="12.5" fill="#ffffff" text-anchor="middle">31</text>
<text x="2347.5" y="895" font-size="16" fill="#ffffff" text-anchor="middle">Jun</text>
<text x="2498.5" y="891" font-size="12.5" fill="#ffffff" text-anchor="middle">28</text>
<text x="2696.5" y="895" font-size="16" fill="#ffffff" text-anchor="middle">Jul</text>
<g shape-rendering="crispEdges">
<rect x="9" y="1046" width="5" height="11" fill="#2e8b57"/>
<rect x="20" y="1032" width="10" height="25" fill="#2e8b57"/>
<rect x="36" y="1024" width="9" height="33" fill="#2e8b57"/>
<rect x="51" y="1019" width="9" height="38" fill="#2e8b57"/>
<rect x="66" y="1015" width="9" height="42" fill="#2e8b57"/>
<rect x="81" y="1015" width="9" height="42" fill="#b22222"/>
<rect x="96" y="1002" width="9" height="55" fill="#2e8b57"/>
<rect x="111" y="990" width="10" height="67" fill="#b22222"/>
<rect x="127" y="989" width="9" height="68" fill="#b22222"/>
<rect x="142" y="987" width="9" height="70" fill="#b22222"/>
<rect x="157" y="980" width="9" height="77" fill="#2e8b57"/>
<rect x="172" y="975" width="9" height="82" fill="#2e8b57"/>
<rect x="187" y="971" width="9" height="86" fill="#2e8b57"/>
<rect x="203" y="972" width="9" height="85" fill="#b22222"/>
<rect x="218" y="968" width="9" height="89" fill="#2e8b57"/>
<rect x="233" y="982" width="9" height="75" fill="#b22222"/>
<rect x="248" y="998" width="9" height="59" fill="#b22222"/>
<rect x="263" y="1003" width="9" height="54" fill="#b22222"/>
<rect x="278" y="1008" width="10" height="49" fill="#b22222"/>
<rect x="294" y="1006" width="9" height="51" fill="#2e8b57"/>
<rect x="309" y="1010" width="9" height="47" fill="#b22222"/>
<rect x="324" y="1012" width="9" height="45" fill="#b22222"/>
<rect x="339" y="1017" width="9" height="40" fill="#b22222"/>
<rect x="354" y="1028" width="9" height="29" fill="#b22222"/>
<rect x="369" y="1031" width="10" height="26" fill="#b22222"/>
<rect x="385" y="1037" width="9" height="20" fill="#b22222"/>
<rect x="400" y="1041" width="9" height="16" fill="#b22222"/>
<rect x="415" y="1044" width="9" height="13" fill="#b22222"/>
<rect x="430" y="1036" width="9" height="21" fill="#2e8b57"/>
<rect x="445" y="1036" width="9" height="21" fill="#2e8b57"/>
<rect x="461" y="1057" width="9" height="4" fill="#2e8b57"/>
<rect x="476" y="1057" width="9" height="12" fill="#2e8b57"/>
<rect x="491" y="1057" width="9" height="12" fill="#2e8b57"/>
<rect x="506" y="1057" width="9" height="16" fill="#b22222"/>
<rect x="521" y="1057" width="9" height="27" fill="#b22222"/>
<rect x="536" y="1057" width="10" height="27" fill="#b22222"/>
<rect x="552" y="1057" width="9" height="33" fill="#b22222"/>
<rect x="567" y="1057" width="9" height="34" fill="#b22222"/>
<rect x="582" y="1057" width="9" height="31" fill="#b22222"/>
<rect x="597" y="1057" width="9" height="36" fill="#b22222"/>
<rect x="612" y="1057" width="9" height="45" fill="#b22222"/>
<rect x="627" y="1057" width="10" height="62" fill="#b22222"/>
<rect x="643" y="1057" width="9" height="74" fill="#b22222"/>
<rect x="658" y="1057" width="9" height="76" fill="#b22222"/>
<rect x="673" y="1057" width="9" height="84" fill="#b22222"/>
<rect x="688" y="1057" width="9" height="80" fill="#b22222"/>
<rect x="703" y="1057" width="10" height="74" fill="#b22222"/>
<rect x="719" y="1057" width="9" height="68" fill="#b22222"/>
<rect x="734" y="1057" width="9" height="72" fill="#b22222"/>
<rect x="749" y="1057" width="9" height="76" fill="#b22222"/>
<rect x="764" y="1057" width="9" height="77" fill="#b22222"/>
<rect x="779" y="1057" width="9" height="78" fill="#b22222"/>
<rect x="794" y="1057" width="10" height="77" fill="#b22222"/>
<rect x="810" y="1057" width="9" height="80" fill="#b22222"/>
<rect x="825" y="1057" width="9" height="87" fill="#b22222"/>
<rect x="840" y="1057" width="9" height="84" fill="#b22222"/>
<rect x="855" y="1057" width="9" height="85" fill="#b22222"/>
<rect x="870" y="1057" width="9" height="88" fill="#b22222"/>
<rect x="885" y="1057" width="10" height="105" fill="#b22222"/>
<rect x="901" y="1057" width="9" height="116" fill="#b22222"/>
<rect x="916" y="1057" width="9" height="123" fill="#b22222"/>
<rect x="931" y="1057" width="9" height="134" fill="#b22222"/>
<rect x="946" y="1057" width="9" height="140" fill="#b22222"/>
<rect x="961" y="1057" width="10" height="137" fill="#b22222"/>
<rect x="977" y="1057" width="9" height="137" fill="#b22222"/>
<rect x="992" y="1057" width="9" height="138" fill="#b22222"/>
<rect x="1007" y="1057" width="9" height="145" fill="#b22222"/>
<rect x="1022" y="1057" width="9" height="150" fill="#b22222"/>
<rect x="1037" y="1057" width="9" height="150" fill="#b22222"/>
<rect x="1052" y="1057" width="10" height="145" fill="#b22222"/>
<rect x="1068" y="1057" width="9" height="146" fill="#b22222"/>
<rect x="1083" y="1057" width="9" height="143" fill="#b22222"/>
<rect x="1098" y="1057" width="9" height="139" fill="#b22222"/>
<rect x="1113" y="1057" width="9" height="137" fill="#2e8b57"/>
<rect x="1128" y="1057" width="9" height="139" fill="#b22222"/>
<rect x="1144" y="1057" width="9" height="140" fill="#b22222"/>
<rect x="1159" y="1057" width="9" height="142" fill="#b22222"/>
<rect x="1174" y="1057" width="9" height="145" fill="#b22222"/>
<rect x="1189" y="1057" width="9" height="137" fill="#b22222"/>
<rect x="1204" y="1057" width="9" height="136" fill="#b22222"/>
<rect x="1219" y="1057" width="10" height="130" fill="#2e8b57"/>
<rect x="1235" y="1057" width="9" height="130" fill="#b22222"/>
<rect x="1250" y="1057" width="9" height="126" fill="#2e8b57"/>
<rect x="1265" y="1057" width="9" height="119" fill="#b22222"/>
<rect x="1280" y="1057" width="9" height="110" fill="#2e8b57"/>
<rect x="1295" y="1057" width="9" height="105" fill="#2e8b57"/>
<rect x="1310" y="1057" width="10" height="101" fill="#b22222"/>
<rect x="1326" y="1057" width="9" height="99" fill="#b22222"/>
<rect x="1341" y="1057" width="9" height="92" fill="#b22222"/>
<rect x="1356" y="1057" width="9" height="86" fill="#2e8b57"/>
<rect x="1371" y="1057" width="9" height="80" fill="#2e8b57"/>
<rect x="1386" y="1057" width="9" height="70" fill="#2e8b57"/>
<rect x="1402" y="1057" width="9" height="64" fill="#2e8b57"/>
<rect x="1417" y="1057" width="9" height="62" fill="#2e8b57"/>
<rect x="1432" y="1057" width="9" height="54" fill="#2e8b57"/>
<rect x="1447" y="1057" width="9" height="47" fill="#2e8b57"/>
<rect x="1462" y="1057" width="9" height="33" fill="#2e8b57"/>
<rect x="1477" y="1057" width="10" height="29" fill="#b22222"/>
<rect x="1493" y="1057" width="9" height="25" fill="#b22222"/>
<rect x="1508" y="1057" width="9" height="25" fill="#2e8b57"/>
<rect x="1523" y="1057" width="9" height="23" fill="#b22222"/>
<rect x="1538" y="1057" width="9" height="19" fill="#b22222"/>
<rect x="1553" y="1057" width="9" height="20" fill="#b22222"/>
<rect x="1568" y="1057" width="10" height="25" fill="#b22222"/>
<rect x="1584" y="1057" width="9" height="20" fill="#2e8b57"/>
<rect x="1599" y="1057" width="9" height="18" fill="#2e8b57"/>
<rect x="1614" y="1057" width="9" height="13" fill="#2e8b57"/>
<rect x="1629" y="1057" width="9" height="10" fill="#2e8b57"/>
<rect x="1644" y="1057" width="9" height="12" fill="#b22222"/>
<rect x="1660" y="1057" width="9" height="13" fill="#b22222"/>
<rect x="1675" y="1057" width="9" height="14" fill="#b22222"/>
<rect x="1690" y="1057" width="9" height="12" fill="#b22222"/>
<rect x="1705" y="1057" width="9" height="13" fill="#b22222"/>
<rect x="1720" y="1057" width="9" height="12" fill="#b22222"/>
<rect x="1735" y="1057" width="10" height="14" fill="#b22222"/>
<rect x="1751" y="1057" width="9" height="20" fill="#b22222"/>
<rect x="1766" y="1057" width="9" height="22" fill="#b22222"/>
<rect x="1781" y="1057" width="9" height="22" fill="#b22222"/>
<rect x="1796" y="1057" width="9" height="22" fill="#b22222"/>
<rect x="1811" y="1057" width="9" height="28" fill="#b22222"/>
<rect x="1826" y="1057" width="10" height="30" fill="#b22222"/>
<rect x="1842" y="1057" width="9" height="38" fill="#b22222"/>
<rect x="1857" y="1057" width="9" height="42" fill="#b22222"/>
<rect x="1872" y="1057" width="9" height="44" fill="#b22222"/>
<rect x="1887" y="1057" width="9" height="48" fill="#b22222"/>
<rect x="1902" y="1057" width="10" height="49" fill="#b22222"/>
<rect x="1918" y="1057" width="9" height="54" fill="#b22222"/>
<rect x="1933" y="1057" width="9" height="56" fill="#b22222"/>
<rect x="1948" y="1057" width="9" height="58" fill="#b22222"/>
<rect x="1963" y="1057" width="9" height="60" fill="#b22222"/>
<rect x="1978" y="1057" width="9" height="59" fill="#b22222"/>
<rect x="1993" y="1057" width="10" height="60" fill="#b22222"/>
<rect x="2009" y="1057" width="9" height="64" fill="#b22222"/>
<rect x="2024" y="1057" width="9" height="67" fill="#b22222"/>
<rect x="2039" y="1057" width="9" height="70" fill="#b22222"/>
<rect x="2054" y="1057" width="9" height="73" fill="#b22222"/>
<rect x="2069" y="1057" width="9" height="70" fill="#2e8b57"/>
<rect x="2085" y="1057" width="9" height="73" fill="#b22222"/>
<rect x="2100" y="1057" width="9" height="67" fill="#2e8b57"/>
<rect x="2115" y="1057" width="9" height="61" fill="#2e8b57"/>
<rect x="2130" y="1057" width="9" height="60" fill="#2e8b57"/>
<rect x="2145" y="1057" width="9" height="58" fill="#2e8b57"/>
<rect x="2160" y="1057" width="10" height="41" fill="#2e8b57"/>
<rect x="2176" y="1057" width="9" height="33" fill="#2e8b57"/>
<rect x="2191" y="1057" width="9" height="28" fill="#2e8b57"/>
<rect x="2206" y="1057" width="9" height="25" fill="#b22222"/>
<rect x="2221" y="1057" width="9" height="12" fill="#2e8b57"/>
<rect x="2236" y="1057" width="9" height="10" fill="#2e8b57"/>
<rect x="2251" y="1057" width="10" height="2" fill="#2e8b57"/>
<rect x="2267" y="1051" width="9" height="6" fill="#2e8b57"/>
<rect x="2282" y="1045" width="9" height="12" fill="#2e8b57"/>
<rect x="2297" y="1019" width="9" height="38" fill="#2e8b57"/>
<rect x="2312" y="1013" width="9" height="44" fill="#2e8b57"/>
<rect x="2327" y="1003" width="9" height="54" fill="#2e8b57"/>
<rect x="2343" y="991" width="9" height="66" fill="#2e8b57"/>
<rect x="2358" y="972" width="9" height="85" fill="#2e8b57"/>
<rect x="2373" y="976" width="9" height="81" fill="#b22222"/>
<rect x="2388" y="977" width="9" height="80" fill="#b22222"/>
<rect x="2403" y="979" width="9" height="78" fill="#b22222"/>
<rect x="2418" y="976" width="10" height="81" fill="#b22222"/>
<rect x="2434" y="973" width="9" height="84" fill="#2e8b57"/>
<rect x="2449" y="967" width="9" height="90" fill="#2e8b57"/>
<rect x="2464" y="958" width="9" height="99" fill="#2e8b57"/>
<rect x="2479" y="946" width="9" height="111" fill="#2e8b57"/>
<rect x="2494" y="940" width="9" height="117" fill="#2e8b57"/>
<rect x="2509" y="938" width="10" height="119" fill="#b22222"/>
<rect x="2525" y="948" width="9" height="109" fill="#b22222"/>
<rect x="2540" y="942" width="9" height="115" fill="#2e8b57"/>
<rect x="2555" y="945" width="9" height="112" fill="#2e8b57"/>
</g>
<g shape-rendering="crispEdges"><rect x="33" y="935" width="13" height="13" fill="#2e8b57"/><rect x="252" y="935" width="13" height="13" fill="#b22222"/></g>
<text x="50.5" y="945.8" font-size="12.5" fill="#ffffff" textLength="46" lengthAdjust="spacingAndGlyphs">BULLISH</text>
<text x="269.5" y="945.8" font-size="12.5" fill="#ffffff" textLength="48" lengthAdjust="spacingAndGlyphs">BEARISH</text>
<g shape-rendering="crispEdges"><rect x="33.5" y="37.5" width="13" height="13" fill="none" stroke="#1d3a50"/><rect x="49" y="37" width="13" height="13" fill="#1d3a50"/></g>
<path d="M36.5 44 L39.5 47 L44 40.5" fill="none" stroke="#1d3a50" stroke-width="2.2"/>
<text x="67" y="48" font-size="12.5" fill="#ffffff" textLength="40.4" lengthAdjust="spacingAndGlyphs">Volume</text>
<rect x="2" y="1" width="494" height="15.5" fill="#141726"/>
<text x="5" y="16" font-size="16.5" fill="#bfbcae" textLength="229.3" lengthAdjust="spacingAndGlyphs">JFC - Jollibee Foods Corporation</text>
<text x="255.4" y="16" font-size="16.5" fill="#bfbcae" xml:space="preserve" textLength="236" lengthAdjust="spacingAndGlyphs">O: 206.8  H: 208  L: 206  C: 207</text>
<g shape-rendering="crispEdges" fill="#3a3d5a"><rect x="0" y="0" width="2850" height="1"/><rect x="0" y="0" width="1" height="1243"/><rect x="0" y="1242" width="2850" height="1"/><rect x="2849" y="0" width="1" height="1243"/></g>
</svg>
</body></html>
